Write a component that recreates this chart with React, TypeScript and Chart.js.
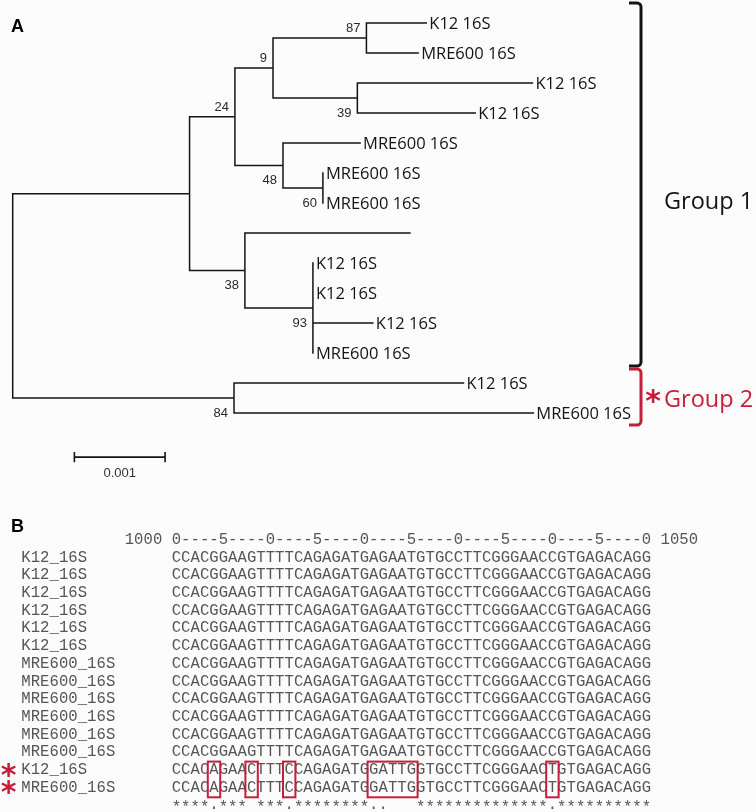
import React, { useEffect, useRef } from 'react';
import { Chart, registerables } from 'chart.js';
Chart.register(...registerables);

// ---------------- Panel A: phylogenetic tree ----------------
// Each node: id, parent, branch length (substitutions / site), tip label, bootstrap support
const nodeIds = ['root', 'n1', 'n2', 'n3', 'n4', 't0', 't1', 'n5', 't2', 't3', 'n6', 't4', 'n7', 't5', 't6', 'n8', 't7', 'n9', 't8', 't9', 't10', 't11', 'n10', 't12', 't13'];
const nodeParents = [null, 'root', 'n1', 'n2', 'n3', 'n4', 'n4', 'n3', 'n5', 'n5', 'n2', 'n6', 'n6', 'n7', 'n7', 'n1', 'n8', 'n8', 'n9', 'n9', 'n9', 'n9', 'root', 'n10', 'n10'];
const branchLengths = [0, 0.00195, 0.0005, 0.00042, 0.00103, 0.00066, 0.00057, 0.00093, 0.00193, 0.0013, 0.00053, 0.00085, 0.00044, 0, 0, 0.00061, 0.00182, 0.00075, 0, 0, 0.00066, 0, 0.00244, 0.00253, 0.0033];
const tipLabels = ['', '', '', '', '', 'K12 16S', 'MRE600 16S', '', 'K12 16S', 'K12 16S', '', 'MRE600 16S', '', 'MRE600 16S', 'MRE600 16S', '', '', '', 'K12 16S', 'K12 16S', 'K12 16S', 'MRE600 16S', '', 'K12 16S', 'MRE600 16S'];
const bootstrapValues = [null, null, 24, 9, 87, null, null, 39, null, null, 48, null, 60, null, null, 38, null, 93, null, null, null, null, 84, null, null];

const groupNames = ['Group 1', 'Group 2'];
const groupFirstTip = [0, 12];
const groupLastTip = [11, 13];
const groupMarked = [false, true];

const scaleBarLength = 0.001;
const scaleBarLabel = '0.001';

// ---------------- Panel B: alignment ----------------
const alignStart = 1000;
const alignEnd = 1050;
const rulerLine = '0----5----0----5----0----5----0----5----0----5----0';
const seqNames = ['K12_16S', 'K12_16S', 'K12_16S', 'K12_16S', 'K12_16S', 'K12_16S', 'MRE600_16S', 'MRE600_16S', 'MRE600_16S', 'MRE600_16S', 'MRE600_16S', 'MRE600_16S', 'K12_16S', 'MRE600_16S'];
const seqGroupOf = [1, 1, 1, 1, 1, 1, 1, 1, 1, 1, 1, 1, 2, 2];
const group1Sequence = 'CCACGGAAGTTTTCAGAGATGAGAATGTGCCTTCGGGAACCGTGAGACAGG';
const group2Sequence = 'CCACAGAACTTTCCAGAGATGGATTGGTGCCTTCGGGAACTGTGAGACAGG';
const consensusLine = '****.*** ***.********..   **************.**********';

// ---------------- styles ----------------
const RED = '#c41e3a';
const INK = '#141414';
const SEQ_INK = '#555555';
const PX_PER_UNIT = 90700; // pixels per substitution/site
const MONO = '15.6px "Liberation Mono", "Courier New", monospace';

function layoutTree() {
  const n = nodeIds.length;
  const idx = new Map<string, number>();
  nodeIds.forEach((id, i) => idx.set(id, i));
  const children: number[][] = nodeIds.map(() => []);
  nodeParents.forEach((p, i) => {
    if (p !== null) children[idx.get(p as string)!].push(i);
  });
  const xs = new Array(n).fill(0);
  const ys = new Array(n).fill(0);
  const parentIdx = nodeParents.map((p) => (p === null ? -1 : idx.get(p as string)!));
  let tip = 0;
  const visit = (i: number, x: number) => {
    xs[i] = x;
    const cs = children[i];
    if (cs.length === 0) {
      ys[i] = tip++;
      return;
    }
    cs.forEach((c) => visit(c, x + branchLengths[c]));
    ys[i] = (ys[cs[0]] + ys[cs[cs.length - 1]]) / 2;
  };
  visit(0, 0);
  return { children, xs, ys, parentIdx };
}

function capBaseline(ctx: CanvasRenderingContext2D, yc: number) {
  const m = ctx.measureText('H');
  return yc + m.actualBoundingBoxAscent / 2;
}

function glyphBaseline(ctx: CanvasRenderingContext2D, s: string, yc: number) {
  const m = ctx.measureText(s);
  return yc + (m.actualBoundingBoxAscent - m.actualBoundingBoxDescent) / 2;
}

function bracket(ctx: CanvasRenderingContext2D, xv: number, x0: number, top: number, bottom: number, color: string) {
  const r = 4;
  ctx.strokeStyle = color;
  ctx.lineWidth = 3;
  ctx.lineCap = 'butt';
  ctx.beginPath();
  ctx.moveTo(x0, top);
  ctx.arcTo(xv, top, xv, top + r, r);
  ctx.lineTo(xv, bottom - r);
  ctx.arcTo(xv, bottom, x0, bottom, r);
  ctx.lineTo(x0, bottom);
  ctx.stroke();
}

function treeConfig(): any {
  const { children, xs, ys, parentIdx } = layoutTree();
  const gap = { x: null, y: null };
  const branches: any[] = [];
  nodeIds.forEach((_, i) => {
    const p = parentIdx[i];
    if (p >= 0) branches.push({ x: xs[p], y: ys[i] }, { x: xs[i], y: ys[i] }, gap);
    const cs = children[i];
    if (cs.length) branches.push({ x: xs[i], y: ys[cs[0]] }, { x: xs[i], y: ys[cs[cs.length - 1]] }, gap);
  });
  const sbStart = 0.00068;
  const sbRow = 14.47;
  const sbTick = 0.17;
  const scaleBar = [
    { x: sbStart, y: sbRow }, { x: sbStart + scaleBarLength, y: sbRow }, gap,
    { x: sbStart, y: sbRow - sbTick }, { x: sbStart, y: sbRow + sbTick }, gap,
    { x: sbStart + scaleBarLength, y: sbRow - sbTick }, { x: sbStart + scaleBarLength, y: sbRow + sbTick },
  ];
  const xMax = 0.0065;
  const left = 12.7;
  const plugin = {
    id: 'treeText',
    afterDatasetsDraw(chart: any) {
      const { ctx } = chart;
      const sx = chart.scales.x;
      const sy = chart.scales.y;
      ctx.save();
      // panel letter
      ctx.fillStyle = '#000';
      ctx.font = 'bold 18px "Liberation Sans", Arial, sans-serif';
      ctx.textAlign = 'left';
      ctx.fillText('A', 11, capBaseline(ctx, 25));
      // tip labels
      ctx.font = '16.5px "Open Sans", sans-serif';
      ctx.fillStyle = INK;
      nodeIds.forEach((_, i) => {
        if (children[i].length || !tipLabels[i]) return;
        const px = sx.getPixelForValue(xs[i]) + 3;
        const py = sy.getPixelForValue(ys[i]);
        ctx.fillText(tipLabels[i], px, capBaseline(ctx, py));
      });
      // bootstrap values
      ctx.font = '13px "Liberation Sans", Arial, sans-serif';
      ctx.fillStyle = '#2a2a2a';
      ctx.textAlign = 'right';
      nodeIds.forEach((_, i) => {
        const b = bootstrapValues[i];
        if (b === null) return;
        const p = parentIdx[i];
        const first = p >= 0 && children[p][0] === i;
        const px = sx.getPixelForValue(xs[i]) - 6;
        const py = sy.getPixelForValue(ys[i]) + (first ? -10.5 : 14);
        ctx.fillText(String(b), px, capBaseline(ctx, py));
      });
      // scale bar label
      ctx.font = '13px "Liberation Sans", Arial, sans-serif';
      ctx.fillStyle = '#333';
      ctx.textAlign = 'center';
      const sbMid = sx.getPixelForValue(sbStart + scaleBarLength / 2);
      ctx.fillText(scaleBarLabel, sbMid, capBaseline(ctx, sy.getPixelForValue(sbRow) + 15));
      // group brackets
      const padTop = [20, 14];
      const padBottom = [13, 12];
      const labelShift = [12, 0];
      groupNames.forEach((name, g) => {
        const color = groupMarked[g] ? RED : INK;
        const top = sy.getPixelForValue(groupFirstTip[g]) - padTop[g];
        const bottom = sy.getPixelForValue(groupLastTip[g]) + padBottom[g];
        bracket(ctx, 641, 629, top, bottom, color);
        const yc = (sy.getPixelForValue(groupFirstTip[g]) + sy.getPixelForValue(groupLastTip[g])) / 2 + labelShift[g];
        ctx.fillStyle = color;
        if (groupMarked[g]) {
          ctx.font = 'bold 30px "DejaVu Sans", sans-serif';
          ctx.textAlign = 'center';
          ctx.fillText('*', 653, glyphBaseline(ctx, '*', yc - 2));
        }
        ctx.textAlign = 'left';
        ctx.font = '23.5px "Open Sans", sans-serif';
        ctx.fillText(name, 664, capBaseline(ctx, yc));
      });
      ctx.restore();
    },
  };
  return {
    type: 'scatter',
    data: {
      datasets: [
        { data: branches, showLine: true, borderColor: INK, borderWidth: 1.5, pointRadius: 0, borderCapStyle: 'square', spanGaps: false, clip: false },
        { data: scaleBar, showLine: true, borderColor: INK, borderWidth: 1.6, pointRadius: 0, borderCapStyle: 'butt', spanGaps: false, clip: false },
      ],
    },
    options: {
      responsive: false,
      maintainAspectRatio: false,
      devicePixelRatio: 1,
      animation: false,
      events: [],
      layout: { padding: { left, top: 23, bottom: 2, right: 756 - left - xMax * PX_PER_UNIT } },
      scales: {
        x: { type: 'linear', min: 0, max: xMax, display: false },
        y: { type: 'linear', min: 0, max: 15.5, reverse: true, display: false },
      },
      plugins: { legend: { display: false }, tooltip: { enabled: false } },
    },
    plugins: [plugin],
  };
}

function alignConfig(): any {
  const sequences = seqGroupOf.map((g) => (g === 1 ? group1Sequence : group2Sequence));
  // runs of differing columns between the two groups
  const runs: [number, number][] = [];
  for (let k = 0; k < group1Sequence.length; k++) {
    if (group1Sequence[k] !== group2Sequence[k]) {
      const last = runs[runs.length - 1];
      if (last && last[1] === k - 1) last[1] = k;
      else runs.push([k, k]);
    }
  }
  const markedRows = seqGroupOf.map((g, r) => (g === 2 ? r : -1)).filter((r) => r >= 0);
  const plugin = {
    id: 'alignText',
    afterDatasetsDraw(chart: any) {
      const { ctx } = chart;
      const sx = chart.scales.x;
      const sy = chart.scales.y;
      ctx.save();
      ctx.fillStyle = '#000';
      ctx.font = 'bold 18px "Liberation Sans", Arial, sans-serif';
      ctx.textAlign = 'left';
      ctx.fillText('B', 11, capBaseline(ctx, 35));

      ctx.font = MONO;
      ctx.textAlign = 'center';
      ctx.fillStyle = SEQ_INK;
      const mono = (s: string, startPos: number, row: number, starDrop = 0) => {
        const yb = sy.getPixelForValue(row) + 4.9;
        for (let k = 0; k < s.length; k++) {
          if (s[k] === ' ') continue;
          ctx.fillText(s[k], sx.getPixelForValue(startPos + k), yb + (s[k] === '*' ? starDrop : 0));
        }
      };
      mono(String(alignStart), alignStart - 5, -1);
      mono(rulerLine, alignStart, -1);
      mono(String(alignEnd), alignEnd + 2, -1);
      seqNames.forEach((name, r) => {
        mono(name, alignStart - 16, r);
        mono(sequences[r], alignStart, r);
      });
      mono(consensusLine, alignStart, seqNames.length, 3);

      // red boxes around differing columns
      ctx.strokeStyle = RED;
      ctx.lineWidth = 2;
      const half = (sx.getPixelForValue(alignStart + 1) - sx.getPixelForValue(alignStart)) / 2;
      const top = sy.getPixelForValue(markedRows[0]) - 7.5;
      const bottom = sy.getPixelForValue(markedRows[markedRows.length - 1]) + 10.5;
      runs.forEach(([a, b]) => {
        const l = sx.getPixelForValue(alignStart + a) - half - 1.5;
        const rr = sx.getPixelForValue(alignStart + b) + half + 1.5;
        ctx.strokeRect(l, top, rr - l, bottom - top);
      });
      // red asterisks
      ctx.fillStyle = RED;
      ctx.font = 'bold 30px "DejaVu Sans", sans-serif';
      markedRows.forEach((r) => {
        ctx.fillText('*', sx.getPixelForValue(alignStart - 18) + 1.5, glyphBaseline(ctx, '*', sy.getPixelForValue(r) + 1));
      });
      ctx.restore();
    },
  };
  const charW = 9.4;
  const left = 176.4;
  return {
    type: 'scatter',
    data: { datasets: [{ data: [], pointRadius: 0 }] },
    options: {
      responsive: false,
      maintainAspectRatio: false,
      devicePixelRatio: 1,
      animation: false,
      events: [],
      layout: { padding: { left, right: 756 - left - (alignEnd - alignStart) * charW, top: 49, bottom: 7.5 } },
      scales: {
        x: { type: 'linear', min: alignStart, max: alignEnd, display: false },
        y: { type: 'linear', min: -1, max: 14, reverse: true, display: false },
      },
      plugins: { legend: { display: false }, tooltip: { enabled: false } },
    },
    plugins: [plugin],
  };
}

export default function App() {
  const treeRef = useRef<HTMLCanvasElement>(null);
  const alnRef = useRef<HTMLCanvasElement>(null);
  useEffect(() => {
    const c1 = new Chart(treeRef.current as HTMLCanvasElement, treeConfig());
    const c2 = new Chart(alnRef.current as HTMLCanvasElement, alignConfig());
    return () => {
      c1.destroy();
      c2.destroy();
    };
  }, []);
  return (
    <div style={{ position: 'absolute', left: 0, top: 0, width: 756, height: 812, background: '#fcfcfc', overflow: 'hidden' }}>
      <canvas ref={treeRef} width={756} height={490} style={{ display: 'block', width: 756, height: 490 }} />
      <canvas ref={alnRef} width={756} height={322} style={{ display: 'block', width: 756, height: 322 }} />
    </div>
  );
}
